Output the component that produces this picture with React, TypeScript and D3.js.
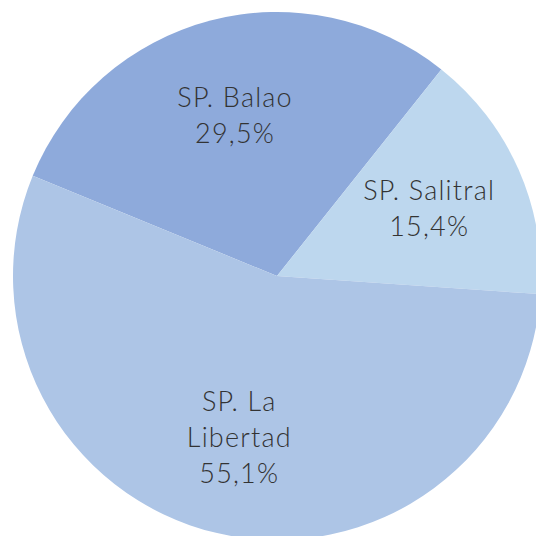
import { useEffect, useRef } from "react";
import * as d3 from "d3";

const labels = ["SP. Balao", "SP. Salitral", "SP. La Libertad"];
const values = [29.5, 15.4, 55.1];
const colors = ["#8eaadb", "#bdd7ee", "#adc5e6"];
// label lines, Excel wraps the long one
const labelLines = [["SP. Balao"], ["SP. Salitral"], ["SP. La", "Libertad"]];

export default function App() {
  const ref = useRef<SVGSVGElement>(null);

  useEffect(() => {
    const width = 536,
      height = 536;
    const cx = 277,
      cy = 276,
      radius = 264;

    const svg = d3.select(ref.current);
    svg.selectAll("*").remove();

    const g = svg.append("g").attr("transform", `translate(${cx}, ${cy})`);

    const start = (-67.7 * Math.PI) / 180;
    const pie = d3
      .pie<number>()
      .sort(null)
      .startAngle(start)
      .endAngle(start + 2 * Math.PI);
    const arcs = pie(values);

    const arc = d3.arc<d3.PieArcDatum<number>>().innerRadius(0).outerRadius(radius);
    const labelArc = d3
      .arc<d3.PieArcDatum<number>>()
      .innerRadius(radius * 0.63)
      .outerRadius(radius * 0.63);

    g.selectAll("path.slice")
      .data(arcs)
      .join("path")
      .attr("class", "slice")
      .attr("d", arc)
      .attr("fill", (d, i) => colors[i]);

    const lineH = 36;
    arcs.forEach((d, i) => {
      const [x, y] = labelArc.centroid(d);
      const lines = [...labelLines[i], values[i].toFixed(1).replace(".", ",") + "%"];
      const t = g
        .append("text")
        .attr("text-anchor", "middle")
        .attr("font-family", "Lato, sans-serif")
        .attr("font-weight", 300)
        .attr("font-size", 27)
        .attr("letter-spacing", 1.2)
        .attr("fill", "#333333");
      lines.forEach((ln, k) => {
        t.append("tspan")
          .attr("x", x)
          .attr("y", y + (k - (lines.length - 1) / 2) * lineH)
          .attr("dy", "0.35em")
          .text(ln);
      });
    });

    svg.attr("width", width).attr("height", height);
  }, []);

  return (
    <svg
      ref={ref}
      width={536}
      height={536}
      style={{ position: "absolute", left: 0, top: 0, background: "#fff" }}
    />
  );
}
